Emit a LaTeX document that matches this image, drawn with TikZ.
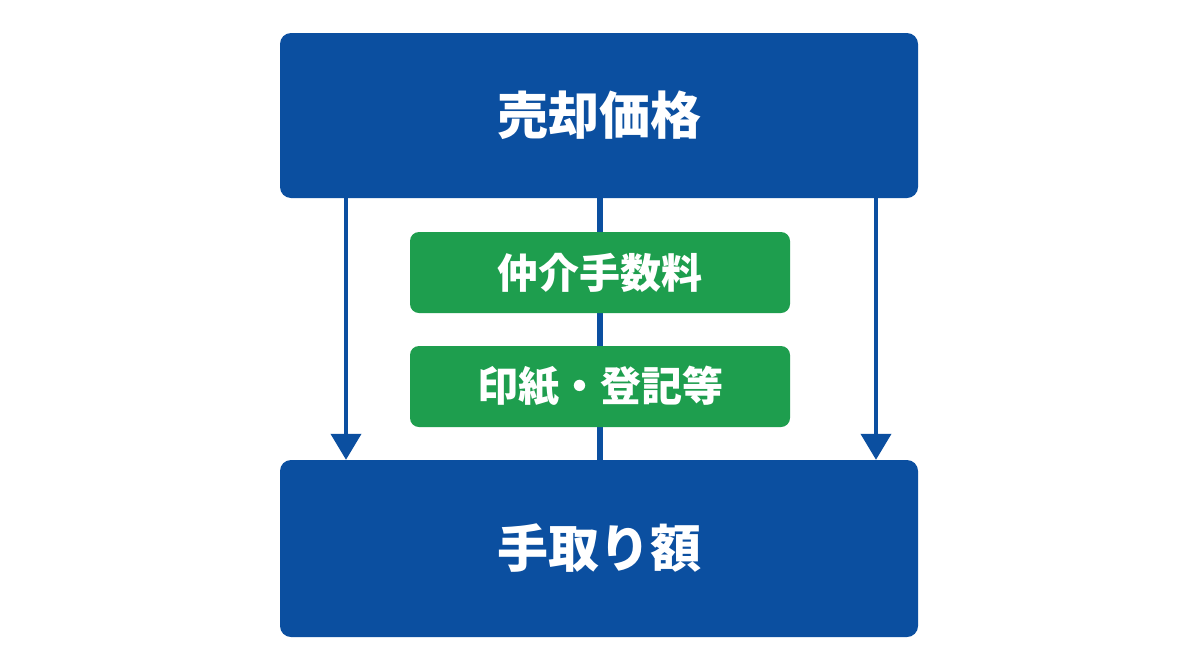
\documentclass[tikz,border=0pt]{standalone}
\usepackage{fontspec}
\usepackage{tikz}
\usetikzlibrary{arrows.meta}
\newfontfamily\cjk{Noto Sans CJK JP}
\definecolor{mainblue}{HTML}{0B4FA0}
\definecolor{costgreen}{HTML}{1E9E4E}

\begin{document}
\begin{tikzpicture}[x=1pt,y=-1pt,
  box/.style={rectangle,rounded corners=11pt,fill=mainblue,text=white,minimum width=638pt,font=\cjk\bfseries\fontsize{51}{54}\selectfont},
  cost/.style={rectangle,rounded corners=9pt,fill=costgreen,text=white,minimum width=380pt,minimum height=81pt,font=\cjk\bfseries\fontsize{41}{44}\selectfont},
  flow/.style={mainblue,line width=4pt,-{Triangle[width=30pt,length=26pt]}}]
\useasboundingbox[fill=white] (0,0) rectangle (1200,670);
\node [box,minimum height=165pt] (price) at (599,115.5) {売却価格};
\node [box,minimum height=177pt] (net) at (599,548.5) {手取り額};
% center line runs behind the cost boxes
\draw [mainblue,line width=6pt] ([xshift=1pt]price.south) -- ([xshift=1pt]net.north);
\node [cost] (fee) at (600,272.5) {仲介手数料};
\node [cost] (tax) at (600,386.5) {印紙・登記等};
\draw [flow] ([xshift=-253pt]price.south) -- ([xshift=-253pt]net.north);
\draw [flow] ([xshift=277pt]price.south) -- ([xshift=277pt]net.north);
\end{tikzpicture}
\end{document}
